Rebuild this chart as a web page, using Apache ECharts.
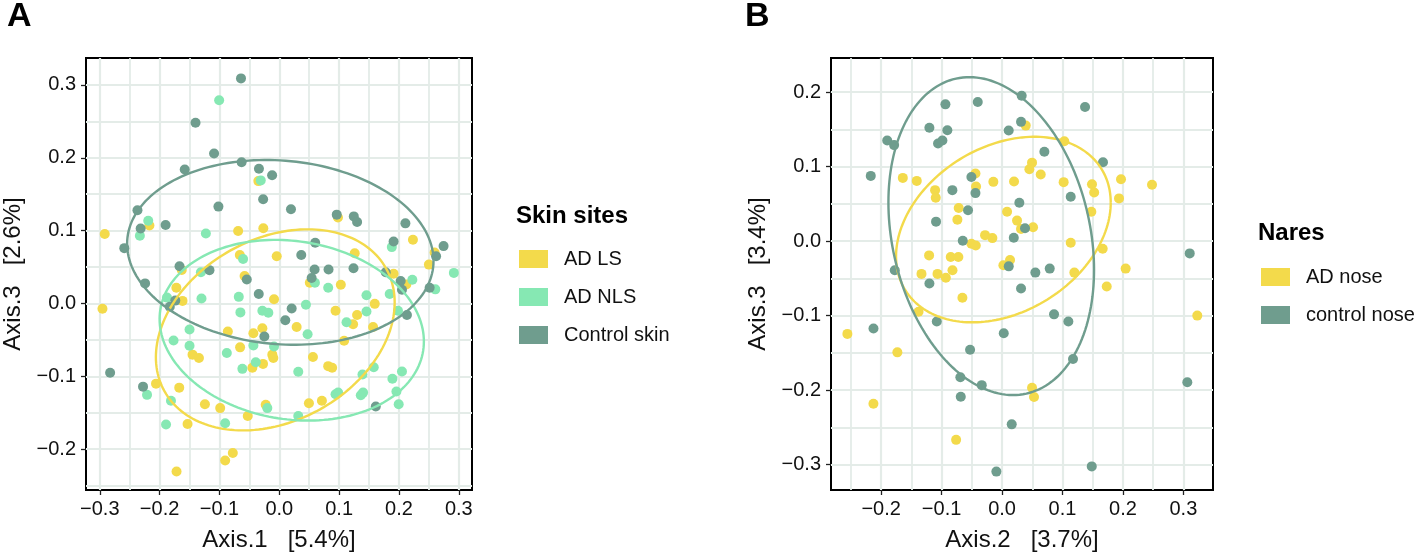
<!DOCTYPE html>
<html><head><meta charset="utf-8">
<script src="https://cdn.jsdelivr.net/npm/echarts@6/dist/echarts.min.js"></script>
<style>html,body{margin:0;padding:0;background:#fff}#c{width:1418px;height:557px}</style>
</head><body><div id="c"></div><script>
// ---------- Panel A: Skin sites (Axis.1 vs Axis.3) ----------
const adLS = [[-0.2917,0.0955],[-0.217,0.107],[-0.0688,0.0996],[-0.0267,0.1033],[-0.035,0.168],[0.098,0.118],[0.2233,0.0874],[0.2595,0.070],[0.126,0.0689],[-0.0043,0.0648],[-0.066,0.0666],[0.25,0.0534],[-0.163,0.046],[-0.058,0.0376],[0.051,0.0285],[0.1028,0.0258],[0.191,0.0408],[0.2123,0.0262],[-0.172,0.0217],[-0.1617,0.0036],[-0.0088,0.0059],[0.029,-0.0322],[0.094,-0.0099],[0.1595,-0.0005],[0.13,-0.0158],[0.1233,-0.0285],[0.1567,-0.0322],[0.1083,-0.0512],[0.0562,-0.0734],[0.0817,-0.086],[0.0883,-0.0883],[-0.086,-0.0385],[-0.0433,-0.0408],[-0.0283,-0.034],[-0.0117,-0.0702],[-0.01,-0.0747],[-0.0655,-0.0602],[-0.0272,-0.0829],[-0.045,-0.0883],[-0.145,-0.0702],[-0.1343,-0.0747],[-0.206,-0.11],[-0.1672,-0.1155],[-0.1243,-0.1382],[-0.0988,-0.1436],[-0.0527,-0.1545],[-0.0227,-0.139],[-0.1533,-0.1653],[-0.0905,-0.2156],[-0.0777,-0.2052],[-0.1717,-0.2306],[0.0495,-0.1368],[0.0712,-0.1336],[-0.2955,-0.0072]];
const adNLS = [[-0.1005,0.279],[-0.031,0.169],[-0.219,0.1137],[-0.233,0.093],[-0.1227,0.096],[0.188,0.0774],[-0.0605,0.0611],[0.2917,0.042],[-0.131,0.043],[0.0595,0.0285],[0.0817,0.0217],[0.2223,0.0326],[0.2607,0.0194],[-0.1877,0.0081],[-0.13,0.0068],[-0.0677,0.0091],[-0.065,-0.0122],[-0.0283,-0.0099],[-0.0183,-0.0127],[0.0445,-0.0018],[0.1457,0.0113],[0.1845,0.0131],[0.1457,-0.0109],[0.1123,-0.0258],[0.1983,-0.0099],[0.0473,-0.0421],[0.0317,-0.0938],[-0.0088,-0.0589],[-0.0433,-0.0575],[-0.0877,-0.0679],[-0.0393,-0.0806],[-0.0617,-0.0897],[-0.1767,-0.0507],[-0.15,-0.0357],[-0.15,-0.058],[-0.221,-0.1254],[-0.181,-0.1336],[-0.02,-0.1436],[-0.1893,-0.1662],[-0.0905,-0.1644],[0.0317,-0.1545],[0.094,-0.1245],[0.0983,-0.1223],[0.139,-0.0974],[0.1578,-0.0874],[0.14,-0.1223],[0.1362,-0.126],[0.189,-0.1033],[0.205,-0.0933],[0.1957,-0.1209],[0.1995,-0.1382]];
const controlSkin = [[-0.064,0.309],[-0.140,0.248],[-0.109,0.206],[-0.158,0.184],[-0.063,0.194],[-0.034,0.185],[-0.012,0.176],[-0.027,0.143],[-0.1017,0.133],[0.0195,0.1295],[-0.237,0.128],[0.096,0.122],[0.1245,0.1196],[0.130,0.112],[0.2107,0.110],[-0.2317,0.103],[-0.19,0.1077],[0.191,0.0852],[-0.259,0.076],[0.2745,0.0788],[0.262,0.0648],[0.060,0.0833],[0.0367,0.0666],[0.059,0.0466],[0.0823,0.0466],[0.124,0.0485],[-0.1667,0.0512],[-0.1167,0.0458],[-0.2243,0.0276],[-0.0543,0.033],[0.054,0.0349],[0.1778,0.043],[0.2028,0.0308],[0.205,0.019],[0.2512,0.0217],[-0.1738,0.004],[-0.183,-0.0045],[-0.0343,0.0131],[0.0207,-0.0068],[0.01,-0.0231],[0.2133,-0.0158],[-0.025,-0.0453],[-0.2827,-0.0951],[-0.2277,-0.1141],[0.1612,-0.1413]];

// ---------- Panel B: Nares (Axis.2 vs Axis.3) ----------
const adNose = [[0.0392,0.155],[0.103,0.1341],[0.0496,0.1053],[0.0452,0.0964],[0.064,0.0893],[-0.1642,0.0848],[-0.1411,0.0808],[-0.044,0.0907],[-0.043,0.0733],[-0.0144,0.0795],[0.0198,0.08],[0.1019,0.0791],[0.1488,0.0764],[0.1968,0.0831],[0.2481,0.0755],[0.1524,0.0653],[0.1935,0.0573],[-0.1108,0.0684],[-0.1097,0.0581],[-0.0717,0.0444],[0.0083,0.0395],[0.1477,0.0395],[-0.0739,0.0288],[0.0248,0.0275],[0.0314,0.0164],[0.0513,0.0187],[-0.0281,0.008],[-0.016,0.004],[-0.0507,-0.0036],[-0.0435,-0.0059],[0.1136,-0.0023],[0.1665,-0.0103],[-0.1207,-0.0192],[-0.0849,-0.0213],[-0.0723,-0.0213],[0.0132,-0.0253],[0.0022,-0.0325],[0.1196,-0.0423],[0.2045,-0.0369],[-0.1333,-0.044],[-0.1068,-0.044],[-0.093,-0.0493],[-0.082,-0.0392],[-0.0656,-0.076],[0.1732,-0.0609],[0.323,-0.1],[-0.1382,-0.0947],[-0.2559,-0.1245],[-0.1732,-0.1493],[0.0496,-0.1969],[0.0529,-0.2093],[-0.2128,-0.2183],[-0.076,-0.2667]];
const controlNose = [[0.0325,0.195],[-0.0402,0.1867],[-0.0937,0.1835],[0.1373,0.18],[-0.1202,0.152],[-0.0905,0.1488],[0.011,0.1484],[0.0314,0.16],[-0.19,0.135],[-0.1786,0.1288],[-0.1059,0.131],[-0.0987,0.135],[0.07,0.12],[0.167,0.1057],[-0.2172,0.0875],[-0.0507,0.0861],[0.1136,0.0595],[-0.0822,0.0684],[-0.044,0.0644],[0.0286,0.0515],[-0.0563,0.0413],[-0.1092,0.0261],[0.038,0.0173],[-0.065,0.0004],[0.0194,0.0044],[0.3105,-0.0165],[0.0111,-0.0339],[0.0551,-0.0423],[0.0789,-0.0369],[-0.1775,-0.0392],[-0.1202,-0.0569],[0.0314,-0.0636],[-0.108,-0.108],[-0.2127,-0.1173],[0.086,-0.0983],[0.1097,-0.108],[0.0028,-0.1236],[-0.0529,-0.1459],[0.1174,-0.1583],[-0.069,-0.1827],[-0.0336,-0.1933],[-0.0683,-0.2089],[0.3065,-0.1893],[0.016,-0.2459],[-0.0094,-0.3093],[0.1484,-0.3023]];

// Ellipses: [centerX, centerY, halfWidth, halfHeight, correlation]
const ellipseADLS = [-0.0067, -0.0362, 0.1995, 0.138, 0.272];
const ellipseADNLS = [0.0208, -0.0367, 0.2208, 0.124, -0.124];
const ellipseControlSkin = [0.0017, 0.0702, 0.256, 0.1268, -0.092];
const ellipseADNose = [0.0022, 0.0155, 0.1776, 0.1245, 0.29];
const ellipseControlNose = [-0.0179, 0.0067, 0.1701, 0.2133, -0.212];

// Tick labels
const ticksA_x = [-0.3,-0.2,-0.1,0,0.1,0.2,0.3];
const minorA_x = [-0.25,-0.15,-0.05,0.05,0.15,0.25];
const ticksA_y = [-0.2,-0.1,0,0.1,0.2,0.3];
const minorA_y = [-0.25,-0.15,-0.05,0.05,0.15,0.25];
const ticksB_x = [-0.2,-0.1,0,0.1,0.2,0.3];
const minorB_x = [-0.25,-0.15,-0.05,0.05,0.15,0.25];
const ticksB_y = [-0.3,-0.2,-0.1,0,0.1,0.2];
const minorB_y = [-0.25,-0.15,-0.05,0.05,0.15];

const C_YEL = '#F3DA4B', C_GRN = '#86E8B3', C_DRK = '#6F9D8E';
const FONT = "'Liberation Sans', Arial, Helvetica, sans-serif";
const GRIDCOL = '#E4ECE8';

const fmt = v => (v < -1e-9 ? '\u2212' : '') + Math.abs(v).toFixed(1);

function mainAxis(grid, min, max, ticks, name, gap, isY) {
  return {
    type: 'value', gridIndex: grid, min: min, max: max,
    axisLine: {show: false, onZero: false},
    axisTick: {show: true, inside: false, length: 5, customValues: ticks, lineStyle: {color: '#222', width: 1.3}},
    axisLabel: {customValues: ticks, formatter: fmt, fontSize: 20, color: '#111', fontFamily: FONT, margin: isY ? 10 : 9},
    splitLine: {show: true, lineStyle: {color: GRIDCOL, width: 2.2}},
    name: name, nameLocation: 'middle', nameGap: gap,
    nameTextStyle: {fontSize: 24, color: '#111', fontFamily: FONT}
  };
}
function minorAxis(grid, min, max, vals) {
  return {
    type: 'value', gridIndex: grid, min: min, max: max,
    axisLine: {show: false, onZero: false},
    axisTick: {show: false, customValues: vals},
    axisLabel: {show: false, customValues: vals},
    splitLine: {show: true, lineStyle: {color: GRIDCOL, width: 1.8}}
  };
}

function scatter(name, data, color, xi, yi) {
  return {type: 'scatter', name: name, data: data, xAxisIndex: xi, yAxisIndex: yi,
    symbol: 'circle', symbolSize: 10, itemStyle: {color: color, opacity: 1}, z: 3, silent: true};
}
function ellipse(name, params, color, xi, yi) {
  return {
    type: 'custom', name: name, xAxisIndex: xi, yAxisIndex: yi, data: [params], z: 4, silent: true,
    renderItem: function (p, api) {
      const cx = api.value(0), cy = api.value(1), rx = api.value(2), ry = api.value(3), r = api.value(4);
      const s = Math.sqrt(1 - r * r);
      const pts = [];
      const N = 180;
      for (let k = 0; k <= N; k++) {
        const t = 2 * Math.PI * k / N;
        pts.push(api.coord([cx + rx * Math.cos(t), cy + ry * (r * Math.cos(t) + s * Math.sin(t))]));
      }
      return {type: 'polyline', shape: {points: pts}, style: {stroke: color, lineWidth: 2.4, fill: null}};
    }
  };
}

const chart = echarts.init(document.getElementById('c'), null, {renderer: 'canvas'});
chart.setOption({
  backgroundColor: '#fff',
  animation: false,
  textStyle: {fontFamily: FONT},
  title: [
    {text: 'A', left: 7, top: 0, padding: 0, textStyle: {fontSize: 34, fontWeight: 900, color: '#000', fontFamily: FONT}},
    {text: 'B', left: 745, top: 0, padding: 0, textStyle: {fontSize: 34, fontWeight: 900, color: '#000', fontFamily: FONT}},
    {text: 'Skin sites', left: 516, top: 204, padding: 0, textStyle: {fontSize: 24, fontWeight: 'bold', color: '#000', fontFamily: FONT}},
    {text: 'Nares', left: 1258, top: 221, padding: 0, textStyle: {fontSize: 24, fontWeight: 'bold', color: '#000', fontFamily: FONT}}
  ],
  legend: [
    {data: [{name: 'AD LS', icon: 'rect'}, {name: 'AD NLS', icon: 'rect'}, {name: 'Control skin', icon: 'rect'}],
     orient: 'vertical', left: 519, top: 249, padding: 0, itemWidth: 29, itemHeight: 18, itemGap: 18,
     selectedMode: false, textStyle: {fontSize: 20, color: '#111', fontFamily: FONT, padding: [0, 0, 0, 11]}},
    {data: [{name: 'AD nose', icon: 'rect'}, {name: 'control nose', icon: 'rect'}],
     orient: 'vertical', left: 1261, top: 267, padding: 0, itemWidth: 29, itemHeight: 18, itemGap: 18,
     selectedMode: false, textStyle: {fontSize: 20, color: '#111', fontFamily: FONT, padding: [0, 0, 0, 11]}}
  ],
  grid: [
    {left: 85, top: 58, width: 387, height: 436, show: true, borderColor: '#000', borderWidth: 2, backgroundColor: '#fff'},
    {left: 831, top: 58, width: 382, height: 435, show: true, borderColor: '#000', borderWidth: 2, backgroundColor: '#fff'}
  ],
  xAxis: [
    mainAxis(0, -0.323, 0.322, ticksA_x, 'Axis.1   [5.4%]', 38, false),
    minorAxis(0, -0.323, 0.322, minorA_x),
    mainAxis(1, -0.283, 0.349, ticksB_x, 'Axis.2   [3.7%]', 38, false),
    minorAxis(1, -0.283, 0.349, minorB_x)
  ],
  yAxis: [
    mainAxis(0, -0.256, 0.337, ticksA_y, 'Axis.3   [2.6%]', 61, true),
    minorAxis(0, -0.256, 0.337, minorA_y),
    mainAxis(1, -0.334, 0.2457, ticksB_y, 'Axis.3   [3.4%]', 61, true),
    minorAxis(1, -0.334, 0.2457, minorB_y)
  ],
  series: [
    scatter('AD LS', adLS, C_YEL, 0, 0),
    scatter('AD NLS', adNLS, C_GRN, 0, 0),
    scatter('Control skin', controlSkin, C_DRK, 0, 0),
    ellipse('AD LS ellipse', ellipseADLS, C_YEL, 0, 0),
    ellipse('AD NLS ellipse', ellipseADNLS, C_GRN, 0, 0),
    ellipse('Control skin ellipse', ellipseControlSkin, C_DRK, 0, 0),
    scatter('AD nose', adNose, C_YEL, 2, 2),
    scatter('control nose', controlNose, C_DRK, 2, 2),
    ellipse('AD nose ellipse', ellipseADNose, C_YEL, 2, 2),
    ellipse('control nose ellipse', ellipseControlNose, C_DRK, 2, 2)
  ]
});
</script></body></html>
